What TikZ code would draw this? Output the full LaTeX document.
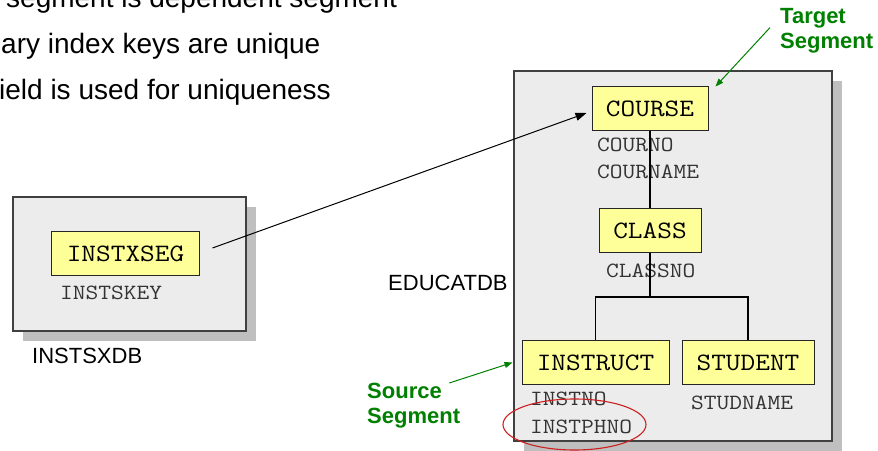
\documentclass[tikz,border=0pt]{standalone}
\usepackage{fontspec}
\setmainfont{Liberation Sans}
\newfontfamily\codefont[FakeStretch=1.14]{Latin Modern Mono}
\usepackage{tikz}
\usetikzlibrary{arrows.meta,shapes.geometric,shadows}
\definecolor{segfill}{RGB}{255,255,153}
\definecolor{dbfill}{RGB}{236,236,236}
\definecolor{dbline}{RGB}{64,64,64}
\definecolor{tagGreen}{RGB}{0,128,0}
\definecolor{ringRed}{RGB}{204,32,32}

\begin{document}
\begin{tikzpicture}[
  x=1bp,y=-1bp,
  dbbox/.style={draw=dbline,fill=dbfill,line width=1.3bp,inner sep=0pt,
                drop shadow={shadow xshift=10bp,shadow yshift=-10bp,
                             fill=black!25,opacity=1}},
  seg/.style={draw=black!85,fill=segfill,line width=1bp,inner sep=0pt,
              minimum height=44bp,font=\codefont\fontsize{25bp}{30bp}\selectfont},
  field/.style={anchor=base west,inner sep=0pt,text=black!80,
                font=\codefont\fontsize{21.7bp}{26bp}\selectfont},
  dbname/.style={anchor=base west,inner sep=0pt,
                 font=\fontsize{22bp}{26bp}\selectfont},
  point/.style={anchor=base west,inner sep=0pt,
                font=\fontsize{28bp}{34bp}\selectfont},
  tag/.style={anchor=north west,inner sep=0pt,align=left,text=tagGreen,
              font=\bfseries\fontsize{22bp}{25bp}\selectfont},
  tree/.style={line width=1.2bp},
  arr/.style={-{Triangle[length=11bp,width=8bp]},line width=1bp},
  tagarr/.style={-{Triangle[length=8bp,width=6bp]},tagGreen,line width=1bp},
  ring/.style={ellipse,draw=ringRed,line width=1.1bp,inner sep=0pt},
]
  \useasboundingbox (0,0) rectangle (878,451);
  \clip (0,0) rectangle (878,451);

  % bullet text running in from the left
  \node[point] (t1) at (6,8)    {segment is dependent segment};
  \node[point] (t2) at (1,54)   {ary index keys are unique};
  \node[point] (t3) at (-1,100) {ield is used for uniqueness};

  % the two databases
  \node[dbbox,minimum width=233bp,minimum height=134bp] (instsxdb) at (129.5,264) {};
  \node[dbbox,minimum width=318bp,minimum height=370bp] (educatdb) at (673,256) {};
  \node[dbname] (instsxname) at (32,364) {INSTSXDB};
  \node[dbname] (educatname) at (388,291) {EDUCATDB};

  % index database
  \node[seg,minimum width=147bp] (instxseg) at (125.5,254) {INSTXSEG};
  \node[field] (instskey) at (60,300) {INSTSKEY};

  % indexed database hierarchy
  \node[seg,minimum width=116bp] (course) at (650,109) {COURSE};
  \node[field] (courno)   at (597,152) {COURNO};
  \node[field] (courname) at (597,179) {COURNAME};
  \node[seg,minimum width=102bp] (class) at (650,231) {CLASS};
  \node[field] (classno) at (606,278) {CLASSNO};
  \node[seg,minimum width=147bp,minimum height=43bp] (instruct) at (595.5,362.5) {INSTRUCT};
  \node[seg,minimum width=132bp,minimum height=43bp] (student) at (748,362.5) {STUDENT};
  \node[field] (instno)   at (530,405) {INSTNO};
  \node[field] (instphno) at (530,433) {INSTPHNO};
  \node[field] (studname) at (691,409) {STUDNAME};

  \coordinate (fork) at (650,297);
  \draw[tree] (course) -- (class);
  \draw[tree] (class) -- (fork);
  \draw[tree] (fork) -| (instruct);
  \draw[tree] (fork) -| (student);

  % pointer from index segment to target
  \draw[arr] ([xshift=13bp,yshift=6bp]instxseg.east) -- ([xshift=-5bp,yshift=-4bp]course.west);

  % green callouts
  \node[tag] (target) at (780,8) {Target\\Segment};
  \node[tag] (source) at (367,383) {Source\\Segment};
  \draw[tagarr] ([xshift=-10bp,yshift=3bp]target.west) -- ([xshift=7bp]course.north east);
  \draw[tagarr] ([xshift=-11bp]source.north east) -- ([xshift=-9bp]instruct.west);

  % search field highlight
  \node[ring,minimum width=143bp,minimum height=51bp] (phnoring) at (574.5,424.5) {};
\end{tikzpicture}
\end{document}
